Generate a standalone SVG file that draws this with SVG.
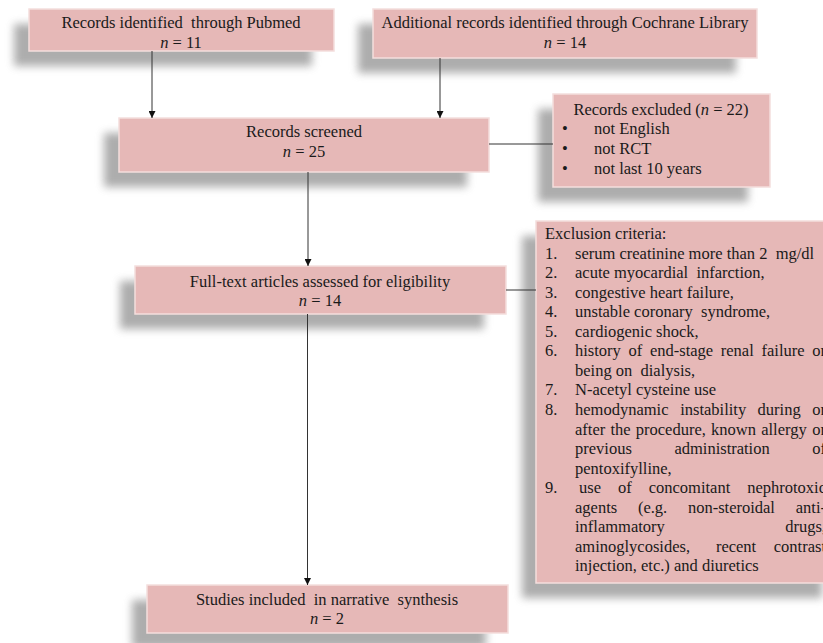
<svg xmlns="http://www.w3.org/2000/svg" width="823" height="643" viewBox="0 0 823 643">
<style>
.box{fill:#E6B8B7;stroke:#F4DEDD;stroke-width:1.5}
.sh{fill:#777;opacity:0.6;filter:url(#blur)}
text{font-family:"Liberation Serif","Times New Roman",serif;font-size:16.5px;fill:#1a1a1a}
.c{text-anchor:middle}
.i{font-style:italic}
.ln{stroke:#333;stroke-width:1;fill:none}
</style>
<defs>
<filter id="blur" x="-20%" y="-50%" width="140%" height="200%"><feGaussianBlur stdDeviation="4.5"/></filter>
<marker id="ah" viewBox="0 0 10 10" refX="10" refY="5" markerWidth="7" markerHeight="7" orient="auto" markerUnits="userSpaceOnUse"><path d="M0,0 L10,5 L0,10 z" fill="#111"/></marker>
</defs>
<rect width="823" height="643" fill="#fff"/>

<g id="pubmed">
<rect class="sh" x="14" y="24" width="298" height="42"/>
<rect class="box" x="29" y="9" width="305" height="42"/>
<text class="c" x="181" y="28" xml:space="preserve">Records identified  through Pubmed</text>
<text class="c" x="181" y="48"><tspan class="i">n</tspan> = 11</text>
</g>

<g id="cochrane">
<rect class="sh" x="358" y="24" width="378" height="49"/>
<rect class="box" x="373" y="9" width="384" height="49"/>
<text class="c" x="565" y="28">Additional records identified through Cochrane Library</text>
<text class="c" x="565" y="48"><tspan class="i">n</tspan> = 14</text>
</g>

<g id="screened">
<rect class="sh" x="104" y="133" width="363" height="54"/>
<rect class="box" x="119" y="118" width="370" height="54"/>
<text class="c" x="304" y="137">Records screened</text>
<text class="c" x="304" y="157"><tspan class="i">n</tspan> = 25</text>
</g>

<g id="excluded">
<rect class="sh" x="538" y="109" width="210" height="93"/>
<rect class="box" x="553" y="94" width="217" height="93"/>
<text class="c" x="661" y="115">Records excluded (<tspan class="i">n</tspan> = 22)</text>
<text x="562" y="134">•</text><text x="594" y="134">not English</text>
<text x="562" y="154">•</text><text x="594" y="154">not RCT</text>
<text x="562" y="174">•</text><text x="594" y="174">not last 10 years</text>
</g>

<g id="fulltext">
<rect class="sh" x="120" y="281" width="364" height="48"/>
<rect class="box" x="135" y="266" width="371" height="48"/>
<text class="c" x="320" y="287">Full-text articles assessed for eligibility</text>
<text class="c" x="320" y="306"><tspan class="i">n</tspan> = 14</text>
</g>

<g id="criteria">
<rect class="sh" x="522" y="236" width="300" height="362"/>
<rect class="box" x="536" y="221" width="310" height="362"/>
<text x="545" y="239">Exclusion criteria:</text>
<text x="545" y="258.6">1.</text><text x="575" y="258.6" xml:space="preserve">serum creatinine more than 2  mg/dl</text>
<text x="545" y="278.1">2.</text><text x="575" y="278.1" xml:space="preserve">acute myocardial  infarction,</text>
<text x="545" y="297.7">3.</text><text x="575" y="297.7">congestive heart failure,</text>
<text x="545" y="317.2">4.</text><text x="575" y="317.2" xml:space="preserve">unstable coronary  syndrome,</text>
<text x="545" y="336.8">5.</text><text x="575" y="336.8">cardiogenic shock,</text>
<text x="545" y="356.3">6.</text><text y="356.3"><tspan x="575">history</tspan><tspan x="628.5">of</tspan><tspan x="649.9">end-stage</tspan><tspan x="720.8">renal</tspan><tspan x="761.5">failure</tspan><tspan x="812.3">or</tspan></text>
<text x="575" y="375.9" xml:space="preserve">being on  dialysis,</text>
<text x="545" y="395.4">7.</text><text x="575" y="395.4">N-acetyl cysteine use</text>
<text x="545" y="415">8.</text><text y="415"><tspan x="575">hemodynamic</tspan><tspan x="680.2">instability</tspan><tspan x="757.6">during</tspan><tspan x="812.3">or</tspan></text>
<text y="434.5"><tspan x="575">after</tspan><tspan x="610.4">the</tspan><tspan x="635.8">procedure,</tspan><tspan x="711.1">known</tspan><tspan x="761.2">allergy</tspan><tspan x="812.2">or</tspan></text>
<text y="454"><tspan x="575">previous</tspan><tspan x="674.4">administration</tspan><tspan x="812.3">of</tspan></text>
<text x="575" y="473.6">pentoxifylline,</text>
<text x="545" y="493.2">9.</text><text y="493.2"><tspan x="579.1">use</tspan><tspan x="618">of</tspan><tspan x="648.7">concomitant</tspan><tspan x="747.2">nephrotoxic</tspan></text>
<text y="512.7"><tspan x="575">agents</tspan><tspan x="637.9">(e.g.</tspan><tspan x="687.9">non-steroidal</tspan><tspan x="795.8">anti-</tspan></text>
<text y="532.3"><tspan x="575">inflammatory</tspan><tspan x="785.2">drugs,</tspan></text>
<text y="551.8"><tspan x="575">aminoglycosides,</tspan><tspan x="715.9">recent</tspan><tspan x="773.8">contrast</tspan></text>
<text x="575" y="571.4">injection, etc.) and diuretics</text>
</g>

<g id="included">
<rect class="sh" x="132" y="600" width="354" height="48"/>
<rect class="box" x="147" y="585" width="361" height="48"/>
<text class="c" x="327" y="605" xml:space="preserve">Studies included  in narrative  synthesis</text>
<text class="c" x="327" y="624"><tspan class="i">n</tspan> = 2</text>
</g>

<g id="connectors">
<line class="ln" x1="152" y1="51" x2="152" y2="118" marker-end="url(#ah)"/>
<line class="ln" x1="440" y1="58" x2="440" y2="118" marker-end="url(#ah)"/>
<line class="ln" x1="308" y1="172" x2="308" y2="266" marker-end="url(#ah)"/>
<line class="ln" x1="307.5" y1="314" x2="307.5" y2="585" marker-end="url(#ah)"/>
<line class="ln" x1="489" y1="144" x2="553" y2="144"/>
<line class="ln" x1="506" y1="290" x2="536" y2="290"/>
</g>
</svg>
